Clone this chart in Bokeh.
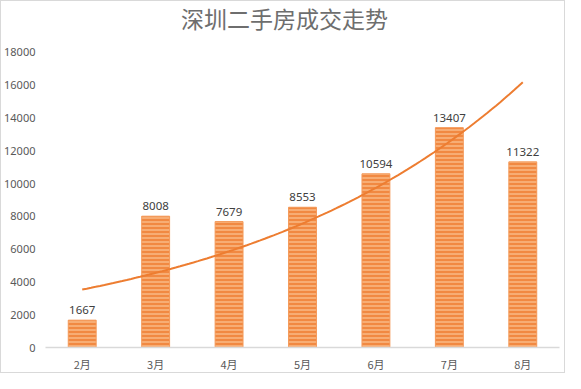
import numpy as np
from bokeh.plotting import figure
from bokeh.models import ColumnDataSource, FixedTicker, Range1d, Label
from bokeh.embed import file_html
from bokeh.resources import INLINE
from bokeh.core.properties import value

months = ["2月", "3月", "4月", "5月", "6月", "7月", "8月"]
volumes = [1667, 8008, 7679, 8553, 10594, 13407, 11322]
y_ticks = [0, 2000, 4000, 6000, 8000, 10000, 12000, 14000, 16000, 18000]
title_text = "深圳二手房成交走势"

idx = list(range(len(months)))
src = ColumnDataSource(dict(x=idx, v=volumes, lbl=[str(v) for v in volumes]))

W, H = 565, 373
L, R, B = 43, 7, 26
TOP_PAD = 51          # pixels from canvas top to the 18000 line
fh = H - B            # frame spans the full height above the x axis
y_max = 18000.0
y_end = y_max * fh / (fh - TOP_PAD)

p = figure(width=W, height=H, output_backend="svg", toolbar_location=None, title=None,
           x_range=Range1d(-0.5, 6.5), y_range=Range1d(0, y_end),
           min_border_left=L, min_border_right=R, min_border_bottom=B, min_border_top=0)

p.outline_line_color = None
p.xgrid.grid_line_color = None
p.ygrid.grid_line_color = None
p.background_fill_color = "white"
p.border_fill_color = "white"

# title inside the (extended) frame, centred on the canvas
tx = -0.5 + (W / 2 - L) / (W - L - R) * 7.0
ty = y_end * (fh - 17) / fh
p.add_layout(Label(x=tx, y=ty, text=title_text, text_align="center",
                   text_baseline="middle", text_font="Noto Sans CJK SC",
                   text_font_size="23px", text_color="#6e6e6e"))

p.vbar(x="x", top="v", width=0.38, bottom=0, source=src,
       fill_color="#F7AD74", line_color="#F49A5A", line_width=1,
       hatch_pattern="horizontal_line", hatch_color="#EE7A2E",
       hatch_scale=4, hatch_weight=1.6, hatch_alpha=0.9)

p.text(x="x", y="v", text="lbl", source=src, text_align="center",
       text_baseline="bottom", y_offset=-6, text_font=value("Noto Sans"),
       text_font_size="11.5px", text_color="#404040")

# exponential trendline fitted to the data
b, a = np.polyfit(np.array(idx) + 1, np.log(volumes), 1)
xs = np.linspace(0, 6, 100)
ys = np.exp(a + b * (xs + 1))
p.line(xs, ys, line_color="#ED7D31", line_width=2)

p.yaxis.ticker = FixedTicker(ticks=y_ticks)
p.yaxis.axis_line_color = None
p.yaxis.major_tick_line_color = None
p.yaxis.minor_tick_line_color = None
p.yaxis.major_label_text_font = "Noto Sans"
p.yaxis.major_label_text_font_size = "11px"
p.yaxis.major_label_text_color = "#595959"
p.yaxis.major_label_standoff = 4

p.xaxis.ticker = FixedTicker(ticks=idx)
p.xaxis.major_label_overrides = {i: m for i, m in zip(idx, months)}
p.xaxis.axis_line_color = "#D9D9D9"
p.xaxis.axis_line_width = 1.5
p.xaxis.major_tick_line_color = None
p.xaxis.minor_tick_line_color = None
p.xaxis.major_label_text_font = "Noto Sans CJK SC"
p.xaxis.major_label_text_font_size = "11px"
p.xaxis.major_label_text_color = "#595959"
p.xaxis.major_label_standoff = 2

p.styles = {"border": "1px solid #D9D9D9", "box-sizing": "border-box"}

open("out.html", "w").write(file_html(p, INLINE))
